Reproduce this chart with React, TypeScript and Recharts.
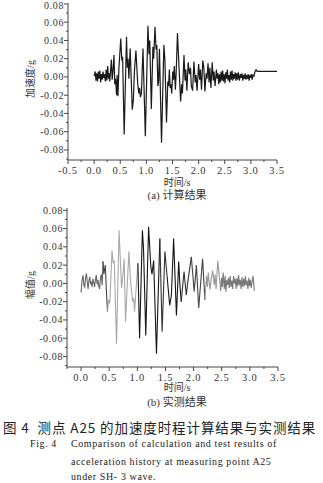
import { LineChart, Line, XAxis, YAxis } from 'recharts';

// (a) calculated acceleration, turning points
const calcTime = [
  0.0, 0.02, 0.035, 0.05, 0.065, 0.08, 0.095, 0.11, 0.125, 0.14, 0.155, 0.17, 0.185, 0.2, 0.215, 0.23, 0.245, 0.26, 0.275, 0.29,
  0.3, 0.33, 0.345, 0.36, 0.38, 0.395, 0.41, 0.43, 0.44, 0.455, 0.475, 0.51, 0.53, 0.545, 0.575, 0.62, 0.635, 0.65, 0.665, 0.69,
  0.73, 0.75, 0.77, 0.8, 0.835, 0.855, 0.87, 0.885, 0.905, 0.935, 0.98, 1.03, 1.05, 1.065, 1.095, 1.125, 1.14, 1.165, 1.185, 1.2,
  1.22, 1.235, 1.25, 1.29, 1.335, 1.355, 1.385, 1.41, 1.425, 1.44, 1.455, 1.47, 1.485, 1.505, 1.52, 1.535, 1.555, 1.57, 1.595, 1.655,
  1.675, 1.69, 1.72, 1.74, 1.755, 1.775, 1.8, 1.825, 1.845, 1.86, 1.885, 1.91, 1.935, 1.95, 1.97, 2.0, 2.02, 2.035, 2.055, 2.08,
  2.1, 2.12, 2.145, 2.16, 2.18, 2.2, 2.215, 2.235, 2.26, 2.28, 2.295, 2.315, 2.34, 2.355, 2.37, 2.385, 2.4, 2.415, 2.43, 2.445,
  2.46, 2.475, 2.49, 2.505, 2.52, 2.535, 2.55, 2.565, 2.58, 2.595, 2.61, 2.625, 2.64, 2.655, 2.67, 2.685, 2.7, 2.715, 2.73, 2.745,
  2.76, 2.78, 2.8, 2.815, 2.83, 2.845, 2.86, 2.875, 2.89, 2.905, 2.92, 2.935, 2.95, 2.965, 2.98, 2.995, 3.01, 3.025, 3.04, 3.06,
  3.08, 3.1, 3.12, 3.5,
];
const calcAccel = [
  0.001, 0.006, -0.004, 0.004, -0.005, 0.006, -0.002, 0.007, -0.006, 0.003, -0.003, 0.006, -0.001, 0.003, -0.005, 0.008, -0.004, 0.012, -0.002, 0.004,
  -0.005, 0.019, -0.003, 0.006, 0.024, -0.008, -0.002, -0.02, 0.002, -0.021, 0.01, 0.042, 0.018, 0.022, -0.063, 0.044, 0.01, 0.02, -0.002, 0.031,
  -0.036, -0.026, 0.005, 0.029, -0.008, -0.018, -0.012, -0.022, -0.018, 0.031, -0.065, 0.056, 0.025, 0.04, -0.035, 0.033, 0.02, 0.055, 0.03, 0.035,
  -0.01, -0.004, 0.031, -0.072, 0.035, 0.018, -0.05, -0.005, -0.01, 0.008, -0.012, -0.008, -0.018, 0.006, -0.003, 0.012, -0.014, 0.004, 0.048, -0.027,
  -0.008, -0.018, 0.024, -0.004, 0.008, -0.015, 0.016, 0.003, 0.01, -0.01, -0.015, 0.017, -0.006, 0.002, -0.015, 0.014, -0.003, 0.008, -0.014, 0.018,
  0.01, -0.016, 0.004, -0.002, 0.015, -0.006, 0.01, -0.012, 0.016, -0.004, 0.006, -0.01, 0.008, -0.002, 0.004, -0.008, 0.003, -0.006, 0.006, -0.004,
  0.007, -0.005, 0.003, -0.007, 0.005, -0.002, 0.008, -0.004, 0.002, -0.006, 0.006, -0.003, 0.007, -0.004, 0.003, -0.002, 0.005, -0.004, 0.004, -0.003,
  0.005, -0.004, 0.003, -0.001, 0.004, -0.004, 0.002, -0.002, 0.004, -0.003, 0.002, -0.002, 0.003, -0.004, 0.002, -0.001, 0.003, -0.003, 0.002, 0.001,
  0.006, 0.008, 0.006, 0.006,
];

// (b) measured acceleration
const testTime = [
  0.0, 0.015, 0.035, 0.05, 0.065, 0.08, 0.095, 0.11, 0.125, 0.14, 0.155, 0.17, 0.18, 0.195, 0.21, 0.225, 0.24, 0.255, 0.27, 0.285,
  0.3, 0.315, 0.33, 0.345, 0.36, 0.375, 0.39, 0.405, 0.43, 0.45, 0.47, 0.49, 0.51, 0.55, 0.57, 0.59, 0.63, 0.675, 0.72, 0.745,
  0.765, 0.79, 0.85, 0.88, 0.9, 0.92, 0.935, 0.95, 1.01, 1.04, 1.09, 1.11, 1.15, 1.2, 1.24, 1.26, 1.29, 1.34, 1.4, 1.44,
  1.49, 1.53, 1.575, 1.605, 1.645, 1.695, 1.735, 1.755, 1.78, 1.83, 1.87, 1.9, 1.96, 2.01, 2.05, 2.09, 2.16, 2.2, 2.23, 2.245,
  2.26, 2.29, 2.315, 2.34, 2.365, 2.38, 2.4, 2.43, 2.48, 2.495, 2.51, 2.525, 2.545, 2.56, 2.575, 2.59, 2.605, 2.62, 2.635, 2.65,
  2.665, 2.68, 2.695, 2.71, 2.725, 2.74, 2.755, 2.77, 2.785, 2.8, 2.815, 2.83, 2.845, 2.86, 2.875, 2.89, 2.905, 2.92, 2.935, 2.95,
  2.965, 2.98, 2.995, 3.01, 3.025, 3.04, 3.055, 3.07, 3.08,
];
const testAccel = [
  -0.01, 0.002, 0.009, -0.002, -0.004, 0.006, 0.011, 0.001, -0.006, 0.003, 0.007, -0.001, 0.002, -0.004, 0.005, 0.001, -0.004, 0.004, 0.009, -0.001,
  0.004, -0.003, -0.006, 0.006, 0.01, -0.002, 0.024, 0.01, 0.02, -0.008, -0.031, -0.018, -0.022, 0.036, 0.022, 0.025, -0.066, 0.058, -0.005, 0.01,
  0.027, -0.042, 0.035, 0.002, -0.01, -0.02, -0.016, -0.031, 0.022, -0.06, 0.058, 0.038, -0.057, 0.062, 0.018, 0.01, 0.025, -0.077, 0.049, -0.053,
  0.035, 0.007, -0.024, -0.013, 0.049, -0.035, 0.024, 0.0, -0.02, 0.013, -0.013, 0.003, 0.029, -0.009, 0.02, -0.027, 0.027, -0.018, 0.008, -0.004,
  0.012, -0.007, 0.006, 0.014, -0.002, 0.01, -0.006, 0.025, -0.008, 0.006, -0.004, 0.012, -0.006, 0.008, -0.009, 0.004, -0.002, 0.006, -0.005, 0.008,
  -0.004, 0.003, -0.006, 0.008, 0.0, 0.005, -0.006, 0.006, -0.003, 0.009, -0.002, 0.004, -0.006, 0.007, -0.004, 0.005, -0.003, 0.008, -0.002, 0.003,
  -0.006, 0.006, -0.003, 0.004, -0.005, 0.002, 0.008, 0.0, -0.008,
];

// the scanned curve (b) changes tone along its length
const testSegBreaks = [0, 0.39, 0.47, 1.01, 1.4, 1.53, 1.78, 1.96, 2.2, 2.48, 3.08];
const testSegColors = ['#666', '#444', '#a8a8a8', '#151515', '#333', '#151515', '#333', '#444', '#9a9a9a', '#777'];

const yTicks = [-0.09, -0.08, -0.07, -0.06, -0.05, -0.04, -0.03, -0.02, -0.01, 0, 0.01, 0.02, 0.03, 0.04, 0.05, 0.06, 0.07, 0.08];
const yMajor = [-0.08, -0.06, -0.04, -0.02, 0, 0.02, 0.04, 0.06, 0.08];
const xTicksA = [-0.5, -0.25, 0, 0.25, 0.5, 0.75, 1, 1.25, 1.5, 1.75, 2, 2.25, 2.5, 2.75, 3, 3.25, 3.5];
const xTicksB = [-0.25, 0, 0.25, 0.5, 0.75, 1, 1.25, 1.5, 1.75, 2, 2.25, 2.5, 2.75, 3, 3.25, 3.5];
const xMajor = [-0.5, 0, 0.5, 1, 1.5, 2, 2.5, 3, 3.5];

const serif = '"Liberation Serif", "Noto Sans CJK SC", serif';
const axisColor = '#444';
const textColor = '#333';

const isIn = (v: number, list: number[]) => list.some((m) => Math.abs(m - v) < 1e-6);

const XTick = (props: any) => {
  const { x, y, payload } = props;
  const major = isIn(payload.value, xMajor);
  return (
    <g>
      <line x1={x} x2={x} y1={y} y2={y + (major ? 4 : 2)} stroke={axisColor} strokeWidth={1} />
      {major && (
        <text x={x} y={y + 14} textAnchor="middle" fill={textColor} style={{ fontFamily: serif, fontSize: 10.5, letterSpacing: 0.8 }}>
          {payload.value.toFixed(1)}
        </text>
      )}
    </g>
  );
};

const YTick = (props: any) => {
  const { x, y, payload } = props;
  const major = isIn(payload.value, yMajor);
  return (
    <g>
      <line x1={x - (major ? 4 : 2)} x2={x} y1={y} y2={y} stroke={axisColor} strokeWidth={1} />
      {major && (
        <text
          x={x - 4}
          y={Math.max(y + 3.5, 9)}
          textAnchor="end"
          fill={textColor}
          style={{ fontFamily: serif, fontSize: 10, letterSpacing: 0.6 }}
        >
          {payload.value.toFixed(2)}
        </text>
      )}
    </g>
  );
};

const label = (text: string, cx: number, cy: number, size: number, rotate = false) => (
  <div
    style={{
      position: 'absolute',
      left: cx,
      top: cy,
      transform: `translate(-50%, -50%)${rotate ? ' rotate(-90deg)' : ''}`,
      whiteSpace: 'pre',
      fontSize: size,
      fontFamily: serif,
      color: textColor,
      lineHeight: 1,
    }}
  >
    {text}
  </div>
);

const capStyle = {
  position: 'absolute' as const,
  fontSize: 10,
  letterSpacing: 0.6,
  whiteSpace: 'pre' as const,
  fontFamily: serif,
  color: '#222',
  lineHeight: 1,
};

export default function App() {
  const calcData = calcTime.map((t, i) => ({ t, v: calcAccel[i] }));
  const testData = testTime.map((t, i) => ({ t, v: testAccel[i] }));
  const segments = testSegColors.map((color, i) => ({
    color,
    data: testData.filter((d) => d.t >= testSegBreaks[i] - 1e-9 && d.t <= testSegBreaks[i + 1] + 1e-9),
  }));

  return (
    <div style={{ position: 'absolute', left: 0, top: 0, width: 323, height: 483, background: '#fff', overflow: 'hidden' }}>
      <div style={{ position: 'absolute', left: 0, top: 0 }}>
        <LineChart width={323} height={195} data={calcData} margin={{ top: 3, right: 46, bottom: 10, left: 18 }}>
          <XAxis
            dataKey="t"
            type="number"
            domain={[-0.5, 3.5]}
            ticks={xTicksA}
            interval={0}
            allowDataOverflow
            height={25}
            tickSize={0}
            tickMargin={0}
            tickLine={false}
            axisLine={{ stroke: axisColor }}
            tick={(p: any) => <XTick {...p} />}
          />
          <YAxis
            type="number"
            domain={[-0.091, 0.081]}
            ticks={yTicks}
            interval={0}
            allowDataOverflow
            width={50}
            tickSize={0}
            tickMargin={0}
            tickLine={false}
            axisLine={{ stroke: axisColor }}
            tick={(p: any) => <YTick {...p} />}
          />
          <Line dataKey="v" type="linear" stroke="#1a1a1a" strokeWidth={1.2} dot={false} isAnimationActive={false} />
        </LineChart>
      </div>

      <div style={{ position: 'absolute', left: 0, top: 200 }}>
        <LineChart width={323} height={195} margin={{ top: 8, right: 45, bottom: 3, left: 17 }}>
          <XAxis
            dataKey="t"
            type="number"
            domain={[-0.25, 3.5]}
            ticks={xTicksB}
            interval={0}
            allowDataOverflow
            height={25}
            tickSize={0}
            tickMargin={0}
            tickLine={false}
            axisLine={{ stroke: axisColor }}
            tick={(p: any) => <XTick {...p} />}
          />
          <YAxis
            type="number"
            domain={[-0.0915, 0.0825]}
            ticks={yTicks}
            interval={0}
            allowDataOverflow
            width={50}
            tickSize={0}
            tickMargin={0}
            tickLine={false}
            axisLine={{ stroke: axisColor }}
            tick={(p: any) => <YTick {...p} />}
          />
          {segments.map((s, i) => (
            <Line
              key={i}
              data={s.data}
              dataKey="v"
              type="linear"
              stroke={s.color}
              strokeWidth={1.1}
              dot={false}
              isAnimationActive={false}
            />
          ))}
        </LineChart>
      </div>

      {label('加速度/g', 31, 79, 10, true)}
      {label('时间/s', 177, 183, 10)}
      {label('(a) 计算结果', 177, 195, 11)}

      {label('幅值/g', 31, 285, 10, true)}
      {label('时间/s', 177, 388, 10)}
      {label('(b) 实测结果', 177, 402, 11)}

      <div
        style={{
          position: 'absolute',
          left: 3,
          top: 421,
          fontSize: 13.5,
          letterSpacing: 0.9,
          whiteSpace: 'pre',
          fontFamily: '"Noto Sans CJK SC", sans-serif',
          color: '#222',
          lineHeight: 1,
        }}
      >
        {'图 4  测点 A25 的加速度时程计算结果与实测结果'}
      </div>
      <div style={{ ...capStyle, left: 30, top: 439 }}>{'Fig. 4'}</div>
      <div style={{ ...capStyle, left: 71, top: 439 }}>{'Comparison of calculation and test results of'}</div>
      <div style={{ ...capStyle, left: 71, top: 457 }}>{'acceleration history at measuring point A25'}</div>
      <div style={{ ...capStyle, left: 71, top: 472 }}>{'under SH- 3 wave.'}</div>
    </div>
  );
}
